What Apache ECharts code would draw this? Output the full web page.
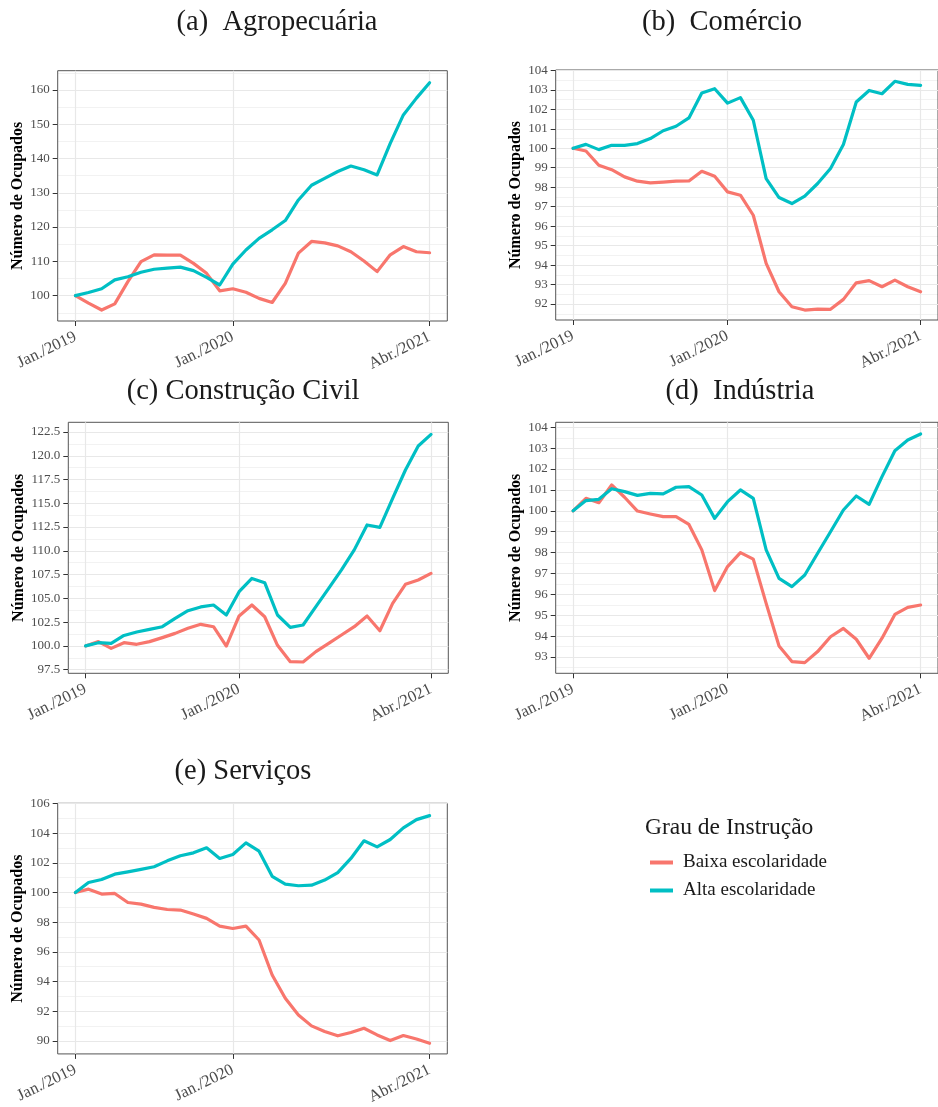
<!DOCTYPE html>
<html>
<head>
<meta charset="utf-8">
<script src="https://cdn.jsdelivr.net/npm/echarts@6/dist/echarts.min.js"></script>
<style>
html,body{margin:0;padding:0;background:#fff;}
#chart{width:938px;height:1107px;}
</style>
</head>
<body>
<div id="chart"></div>
<script>
// ---- Data ----
const months = ['2019-01','2019-02','2019-03','2019-04','2019-05','2019-06','2019-07','2019-08','2019-09','2019-10','2019-11','2019-12',
  '2020-01','2020-02','2020-03','2020-04','2020-05','2020-06','2020-07','2020-08','2020-09','2020-10','2020-11','2020-12',
  '2021-01','2021-02','2021-03','2021-04'];
const xTickMonths = ['2019-01','2020-01','2021-04'];
const xTickLabels = ['Jan./2019','Jan./2020','Abr./2021'];
const seriesNames = ['Baixa escolaridade','Alta escolaridade'];
const panelTitles = ['(a)  Agropecuária','(b)  Comércio','(c) Construção Civil','(d)  Indústria','(e) Serviços'];
const yAxisName = 'Número de Ocupados';
const legendTitle = 'Grau de Instrução';

const agroBaixa = [100,97.8,95.8,97.6,104.1,109.9,111.9,111.8,111.8,109.4,106.5,101.4,102,101,99.2,98,103.6,112.4,115.8,115.4,114.5,112.8,110.1,107,111.9,114.3,112.8,112.5];
const agroAlta  = [100,100.9,102,104.6,105.5,106.8,107.7,108,108.3,107.3,105.3,103.1,109.2,113.3,116.7,119.2,121.9,127.9,132.2,134.2,136.2,137.8,136.7,135.2,144.4,152.7,157.6,162.1];
const comBaixa  = [100,99.86,99.13,98.9,98.53,98.31,98.22,98.26,98.31,98.32,98.82,98.56,97.76,97.59,96.56,94.09,92.63,91.86,91.69,91.74,91.73,92.24,93.09,93.2,92.89,93.23,92.89,92.63];
const comAlta   = [100,100.2,99.93,100.15,100.15,100.24,100.5,100.9,101.13,101.56,102.84,103.06,102.32,102.6,101.44,98.44,97.47,97.16,97.54,98.19,98.96,100.19,102.38,102.97,102.8,103.44,103.28,103.23];
const consBaixa = [100,100.45,99.74,100.34,100.17,100.45,100.87,101.32,101.85,102.27,102.02,99.99,103.15,104.3,103.07,100.06,98.34,98.31,99.4,100.27,101.15,102.02,103.15,101.6,104.48,106.48,106.93,107.63];
const consAlta  = [100,100.34,100.27,101.1,101.46,101.74,102.02,102.9,103.7,104.1,104.3,103.25,105.7,107.1,106.65,103.25,101.95,102.2,104.13,106.06,108,110.1,112.72,112.47,115.52,118.5,121.03,122.25];
const indBaixa  = [100,100.6,100.39,101.24,100.65,99.99,99.85,99.72,99.72,99.35,98.13,96.18,97.33,98,97.69,95.57,93.53,92.78,92.73,93.26,93.97,94.37,93.85,92.94,93.9,95.04,95.38,95.49];
const indAlta   = [100,100.49,100.55,101.06,100.92,100.74,100.84,100.81,101.13,101.16,100.76,99.64,100.44,101,100.6,98.13,96.77,96.37,96.93,97.97,99,100.04,100.71,100.31,101.64,102.88,103.39,103.68];
const servBaixa = [100,100.23,99.9,99.94,99.33,99.22,99,98.86,98.82,98.55,98.26,97.74,97.58,97.74,96.8,94.44,92.87,91.75,91.01,90.63,90.34,90.56,90.85,90.4,90.02,90.36,90.13,89.84];
const servAlta  = [100,100.68,100.88,101.24,101.4,101.56,101.74,102.14,102.48,102.68,103.02,102.3,102.57,103.35,102.79,101.1,100.57,100.46,100.5,100.84,101.35,102.3,103.49,103.08,103.58,104.36,104.92,105.19];

const agroTicks = [100,110,120,130,140,150,160];
const comTicks  = [92,93,94,95,96,97,98,99,100,101,102,103,104];
const consTicks = [97.5,100,102.5,105,107.5,110,112.5,115,117.5,120,122.5];
const indTicks  = [93,94,95,96,97,98,99,100,101,102,103,104];
const servTicks = [90,92,94,96,98,100,102,104,106];

// ---- Layout (pixels) ----
const panels = [
  {baixa: agroBaixa, alta: agroAlta, ticks: agroTicks, ymin: 92.6, ymax: 165.6, dec: 0,
   grid: {left: 57.7, top: 70.7, width: 389.6, height: 250.3}, title: {x: 272, y: 3}, nameGap: 28},
  {baixa: comBaixa, alta: comAlta, ticks: comTicks, ymin: 91.18, ymax: 104.02, dec: 0,
   grid: {left: 555.7, top: 70, width: 388.9, height: 250}, title: {x: 717, y: 3}, nameGap: 28},
  {baixa: consBaixa, alta: consAlta, ticks: consTicks, ymin: 97.12, ymax: 123.52, dec: 1,
   grid: {left: 68.3, top: 422.3, width: 380, height: 251}, title: {x: 238, y: 372}, nameGap: 38},
  {baixa: indBaixa, alta: indAlta, ticks: indTicks, ymin: 92.22, ymax: 104.24, dec: 0,
   grid: {left: 555.7, top: 422.3, width: 388.9, height: 251}, title: {x: 735, y: 372}, nameGap: 28},
  {baixa: servBaixa, alta: servAlta, ticks: servTicks, ymin: 89.12, ymax: 106.02, dec: 0,
   grid: {left: 57.7, top: 803.3, width: 389.6, height: 250.7}, title: {x: 238, y: 752}, nameGap: 28}
];

const COL_LOW = '#F8766D', COL_HIGH = '#00BFC4';
const SERIF = '"Liberation Serif", "DejaVu Serif", serif';
const xIdx = m => months.indexOf(m);
const xTickVals = xTickMonths.map(xIdx);
const nX = months.length - 1;
const xPad = nX * 0.05;

const grids = [], xAxes = [], yAxes = [], series = [], titles = [];
panels.forEach((p, k) => {
  grids.push(Object.assign({show: true, borderColor: '#555', borderWidth: 1, backgroundColor: 'transparent', containLabel: false}, p.grid));
  titles.push({text: panelTitles[k], left: p.title.x, top: p.title.y, textAlign: 'center',
    textStyle: {fontFamily: SERIF, fontSize: 28.5, fontWeight: 'normal', color: '#1a1a1a'}});
  xAxes.push({type: 'value', gridIndex: k, min: -xPad, max: nX + xPad, position: 'bottom',
    axisLine: {show: false, onZero: false},
    axisTick: {show: true, length: 5, lineStyle: {color: '#333', width: 1}, customValues: xTickVals},
    axisLabel: {customValues: xTickVals, rotate: 26, fontFamily: SERIF, fontSize: 16.5, color: '#4d4d4d', margin: 15,
      formatter: v => xTickLabels[xTickVals.indexOf(Math.round(v))] || ''},
    splitLine: {show: true, lineStyle: {color: '#e8e8e8', width: 1.2}}
  });
  const step = p.ticks[1] - p.ticks[0];
  const minor = [];
  for (let v = p.ticks[0] - step / 2; v <= p.ymax; v += step) if (v >= p.ymin) minor.push(+v.toFixed(3));
  yAxes.push({type: 'value', gridIndex: k, min: p.ymin, max: p.ymax, position: 'left',
    name: yAxisName, nameLocation: 'middle', nameGap: p.nameGap,
    nameTextStyle: {fontFamily: SERIF, fontSize: 16, fontWeight: 'bold', color: '#000'},
    axisLine: {show: false, onZero: false},
    axisTick: {show: true, length: 5, lineStyle: {color: '#333', width: 1}, customValues: p.ticks},
    axisLabel: {customValues: p.ticks, fontFamily: SERIF, fontSize: 13, color: '#4d4d4d', margin: 8,
      formatter: v => v.toFixed(p.dec)},
    splitLine: {show: true, lineStyle: {color: '#e8e8e8', width: 1.2}}
  });
  // minor grid axis
  yAxes.push({type: 'value', gridIndex: k, min: p.ymin, max: p.ymax, position: 'left',
    axisLine: {show: false, onZero: false}, axisLabel: {show: false},
    axisTick: {show: false, customValues: minor},
    splitLine: {show: true, lineStyle: {color: '#f2f2f2', width: 1}}, z: -1
  });
  const yi = yAxes.length - 2;
  [[p.baixa, seriesNames[0], COL_LOW], [p.alta, seriesNames[1], COL_HIGH]].forEach(([vals, name, col]) => {
    series.push({type: 'line', name: name, xAxisIndex: k, yAxisIndex: yi,
      data: vals.map((v, i) => [i, v]), showSymbol: false, symbol: 'none', animation: false, clip: true,
      lineStyle: {color: col, width: 3.2, cap: 'round', join: 'round'}, itemStyle: {color: col}, z: 3});
  });
});

titles.push({text: legendTitle, left: 640, top: 811,
  textStyle: {fontFamily: SERIF, fontSize: 23.5, fontWeight: 'normal', color: '#1a1a1a'}});

const chart = echarts.init(document.getElementById('chart'), null, {renderer: 'canvas'});
chart.setOption({
  backgroundColor: '#fff',
  animation: false,
  title: titles,
  grid: grids,
  xAxis: xAxes,
  yAxis: yAxes,
  series: series,
  legend: {data: seriesNames, orient: 'vertical', left: 645, top: 848, itemWidth: 23, itemHeight: 4, itemGap: 9,
    icon: 'rect', textStyle: {fontFamily: SERIF, fontSize: 19, lineHeight: 19, color: '#1a1a1a', padding: [0, 0, 0, 5]}, selectedMode: false}
});
</script>
</body>
</html>
